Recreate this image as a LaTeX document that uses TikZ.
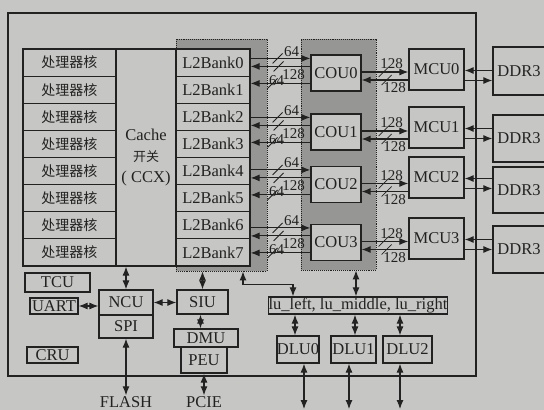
\documentclass[tikz,border=0pt]{standalone}
\usepackage{fontspec}
\setmainfont{Liberation Serif}
\newfontfamily\cjk{Noto Sans CJK SC}
\usepackage{xcolor}
\usepackage{tikz}
\usetikzlibrary{arrows.meta,positioning,calc}

\definecolor{paper}{RGB}{198,198,196}
\definecolor{ink}{RGB}{34,34,34}
\definecolor{dots}{RGB}{150,150,148}

\begin{document}
\begin{tikzpicture}[x=1pt,y=-1pt,
  blk/.style={draw=ink,fill=paper,line width=1.2pt,inner sep=1pt,text=ink,font=\fontsize{16.5}{18}\selectfont},
  core/.style={blk,minimum width=93pt,minimum height=27.1pt,font=\cjk\fontsize{14}{16}\selectfont},
  bank/.style={blk,minimum width=74pt,minimum height=27.1pt},
  region/.style={draw=ink,densely dotted,fill=dots,line width=0.9pt},
  arr/.style={ink,line width=1.1pt,-{Latex[length=9pt,width=7pt]}},
  dbl/.style={ink,line width=1.1pt,{Latex[length=9pt,width=7pt]}-{Latex[length=9pt,width=7pt]}},
  tick/.style={ink,line width=0.8pt},
  num/.style={inner sep=0pt,text=ink,font=\fontsize{15}{16}\selectfont}]
  \useasboundingbox (0,0) rectangle (544,410);
  \clip (0,0) rectangle (544,410);
  \fill[paper] (0,0) rectangle (544,410);
  \draw[ink,line width=1.2pt] (8,13) rectangle (476,376);

  \node[region,minimum width=91pt,minimum height=232pt] (l2reg) at (221.5,155) {};
  \node[region,minimum width=75pt,minimum height=231pt] (coureg) at (338.5,154.5) {};

  \node[blk,minimum width=60pt,minimum height=217pt,align=center,font=\fontsize{16.5}{21}\selectfont] (ccx) at (146,157.5)
    {Cache\\{\cjk\fontsize{13}{21}\selectfont 开关}\\( CCX)};
  \foreach \k in {0,...,7}{
    \node[core] (core\k) at (69.5,{62.56+27.125*\k}) {处理器核};
    \node[bank] (l2b\k) at (213,{62.56+27.125*\k}) {L2Bank\k};
  }
  \foreach \i/\y in {0/73,1/132,2/184.5,3/242.5}
    \node[blk,minimum width=50pt,minimum height=36pt] (cou\i) at (336,\y) {COU\i};
  \foreach \i/\y in {0/69.5,1/127.5,2/177.5,3/238.5}
    \node[blk,minimum width=55pt,minimum height=41pt] (mcu\i) at (436.5,\y) {MCU\i};
  \foreach \i/\y/\h in {0/71/48,1/138.5/47,2/190/46,3/249.5/47}
    \node[blk,minimum width=52pt,minimum height=\h pt] (ddr\i) at (519,\y) {DDR3};

  \node[blk,minimum width=65pt,minimum height=19pt] (tcu) at (57.5,282.5) {TCU};
  \node[blk,minimum width=48pt,minimum height=16pt,inner xsep=0pt] (uart) at (54,306) {UART};
  \node[blk,minimum width=51pt,minimum height=16pt] (cru) at (52.5,355) {CRU};
  \node[blk,minimum width=54pt,minimum height=25pt] (ncu) at (126,302.5) {NCU};
  \node[blk,minimum width=54pt,minimum height=23pt] (spi) at (126,326.5) {SPI};
  \node[blk,minimum width=51pt,minimum height=24pt] (siu) at (202.5,302) {SIU};
  \node[blk,minimum width=64pt,minimum height=18pt] (dmu) at (206,338) {DMU};
  \node[blk,minimum width=46pt,minimum height=26pt] (peu) at (204,360) {PEU};
  \node[blk,minimum width=178pt,minimum height=17pt,inner xsep=0pt] (lu) at (358,305.5) {lu\_left, lu\_middle, lu\_right};
  \foreach \i/\x/\w in {0/298/42,1/353.5/45,2/407.5/49}
    \node[blk,minimum width=\w pt,minimum height=27pt,inner xsep=0pt] (dlu\i) at (\x,349.5) {DLU\i};
  \node[num,inner sep=1pt,font=\fontsize{16.5}{18}\selectfont] (flash) at (126,402) {FLASH};
  \node[num,inner sep=1pt,font=\fontsize{16.5}{18}\selectfont] (pcie) at (204,402) {PCIE};
  \coordinate (d0) at (304,409);
  \coordinate (d1) at (349,409);
  \coordinate (d2) at (400,409);

  \foreach \i/\a/\b in {0/0/1,1/2/3,2/4/5,3/6/7}{
    \coordinate (t\i) at ($(l2b\a.east |- cou\i.north west)+(0,4)$);
    \coordinate (m\i) at ($(l2b\a.east |- cou\i.north west)+(0,12)$);
    \coordinate (b\i) at ($(l2b\b.east |- cou\i.north west)+(0,29)$);
    \draw[arr] (t\i) -- (t\i -| cou\i.west);
    \draw[arr] (m\i -| cou\i.west) -- (m\i);
    \draw[arr] (b\i -| cou\i.west) -- (b\i);
    \draw[tick] ($(t\i)+(22,5)$) -- ++(10,-10);
    \draw[tick] ($(m\i)+(23,5)$) -- ++(10,-10);
    \draw[tick] ($(b\i)+(17,5)$) -- ++(10,-10);
    \node[num] at ($(t\i)+(41,-7)$) {64};
    \node[num] at ($(m\i)+(43,8)$) {128};
    \node[num] at ($(b\i)+(26,-3)$) {64};
  }
  \foreach \i in {0,...,3}{
    \coordinate (p\i) at ($(cou\i.east)+(0,-1)$);
    \coordinate (q\i) at ($(cou\i.east)+(0,7)$);
    \coordinate (r\i) at ($(mcu\i.east)+(0,1)$);
    \coordinate (s\i) at ($(mcu\i.east)+(0,11)$);
    \draw[arr] (p\i) -- (p\i -| mcu\i.west);
    \draw[arr] (q\i -| mcu\i.west) -- (q\i);
    \draw[arr] (r\i -| ddr\i.west) -- (r\i);
    \draw[arr] (s\i) -- (s\i -| ddr\i.west);
    \draw[tick] ($(p\i)+(17,5)$) -- ++(10,-10);
    \draw[tick] ($(q\i)+(20,5)$) -- ++(10,-10);
    \node[num] at ($(p\i)+(30,-8)$) {128};
    \node[num] at ($(q\i)+(33,8)$) {128};
  }

  \draw[dbl] (ncu.north) -- (ncu.north |- ccx.south);
  \draw[dbl] (uart.east) -- (uart.east -| ncu.west);
  \draw[dbl] (ncu.east) -- (ncu.east -| siu.west);
  \draw[dbl] (siu.north) -- (siu.north |- l2reg.south);
  \draw[dbl] ([xshift=-2pt]siu.south) -- ([xshift=-2pt]siu.south |- dmu.north);
  \draw[dbl] (spi.south) -- (flash.north);
  \draw[dbl] (peu.south) -- (pcie.north);
  \draw[dbl] ([xshift=21.5pt]l2reg.south) -- ++(0,13) -| ([xshift=-65pt]lu.north);
  \draw[dbl] ([xshift=-2pt]lu.north) -- ([xshift=-2pt]lu.north |- coureg.south);
  \foreach \i/\s in {0/-3,1/1.5,2/-7.5}{
    \draw[dbl] ([xshift=\s pt]dlu\i.north) -- ([xshift=\s pt]dlu\i.north |- lu.south);
    \draw[dbl] (dlu\i.south -| d\i) -- (d\i);
  }
\end{tikzpicture}
\end{document}
